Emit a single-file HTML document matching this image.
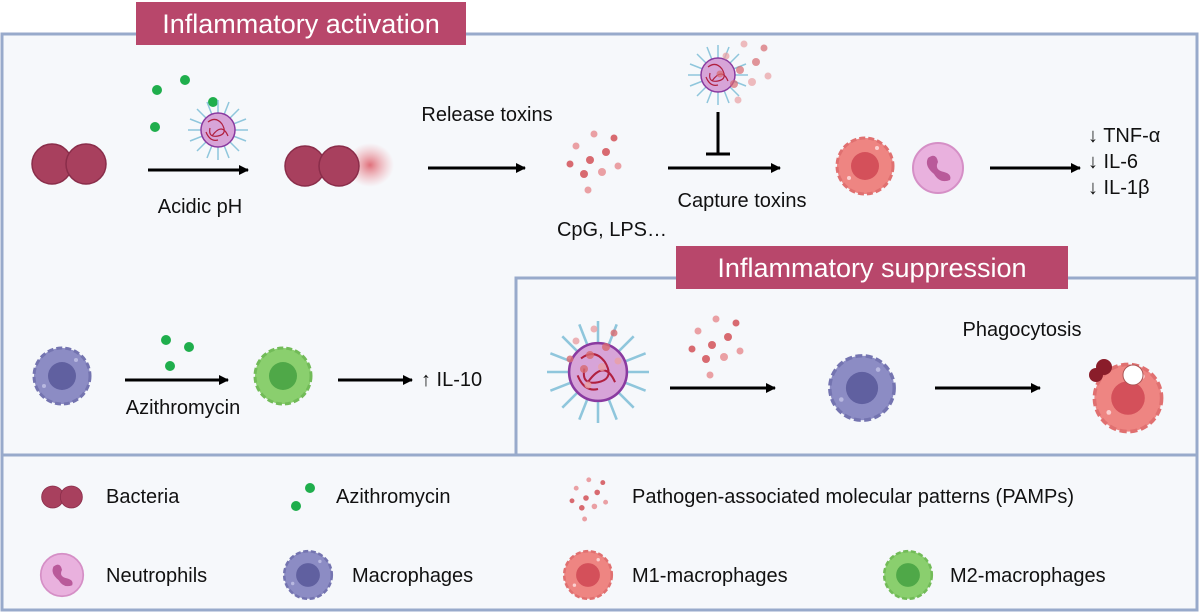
<!DOCTYPE html>
<html><head><meta charset="utf-8"><style>
html,body{margin:0;padding:0;background:#fff}
svg{display:block}
text{font-family:"Liberation Sans",sans-serif;fill:#111}
</style></head><body>
<svg width="1200" height="613" viewBox="0 0 1200 613" xmlns="http://www.w3.org/2000/svg">
<defs>
<marker id="ah" markerWidth="10" markerHeight="10" refX="9" refY="5" orient="auto" markerUnits="userSpaceOnUse"><path d="M0,0 L10,5 L0,10 z" fill="#000"/></marker>
<radialGradient id="blur"><stop offset="0" stop-color="#e0707a"/><stop offset="1" stop-color="#f0a0a8" stop-opacity="0"/></radialGradient>
<g id="bact"><circle cx="-17" cy="0" r="20" fill="#a8405e" stroke="#8a2d4a" stroke-width="1.5"/><circle cx="17" cy="0" r="20" fill="#a8405e" stroke="#8a2d4a" stroke-width="1.5"/></g>
<g id="mac"><circle r="28" fill="#8c8cc4" stroke="#7474b0" stroke-width="3" stroke-dasharray="6 3"/><circle r="14" fill="#6060a0"/><circle cx="14" cy="-16" r="2" fill="#b8b8e0"/><circle cx="-18" cy="10" r="2" fill="#b8b8e0"/></g>
<g id="m1"><circle r="28" fill="#ee8582" stroke="#e07070" stroke-width="3" stroke-dasharray="6 3"/><circle r="14" fill="#d4505a"/><circle cx="12" cy="-18" r="2" fill="#fbd0d0"/><circle cx="-16" cy="12" r="2" fill="#fbd0d0"/></g>
<g id="m2"><circle r="28" fill="#8acf6e" stroke="#72bb58" stroke-width="3" stroke-dasharray="6 3"/><circle r="14" fill="#4fa848"/></g>
<g id="neu"><circle r="25" fill="#e9b1de" stroke="#d58fc6" stroke-width="2"/><path d="M-10,-10 q8,-6 10,4 q-4,8 6,10 q8,2 6,8 q-10,4 -16,-6 q-10,-8 -6,-16z" fill="#b95a9a"/></g>
<g id="np"><g stroke="#8fc6dc" stroke-width="1.5"><line x1="-30" y1="0" x2="30" y2="0"/><line x1="0" y1="-30" x2="0" y2="30"/><line x1="-21" y1="-21" x2="21" y2="21"/><line x1="-21" y1="21" x2="21" y2="-21"/><line x1="-28" y1="-11" x2="28" y2="11"/><line x1="-28" y1="11" x2="28" y2="-11"/><line x1="-11" y1="-28" x2="11" y2="28"/><line x1="11" y1="-28" x2="-11" y2="28"/></g><circle r="17" fill="#d7a4d8" stroke="#8a3aa0" stroke-width="1.5"/><path d="M-10,-8 q8,-6 14,2 q6,10 -4,12 q-10,2 -8,-8 M-6,6 q10,-14 16,0 M-12,2 q4,10 12,8" stroke="#b02040" fill="none" stroke-width="1.2"/></g>
<g id="pamp" fill="#d86a70"><circle cx="0" cy="0" r="4"/><circle cx="16" cy="-8" r="4"/><circle cx="-14" cy="-14" r="3.5" fill="#eaa0a4"/><circle cx="-6" cy="14" r="4"/><circle cx="12" cy="12" r="4" fill="#eaa0a4"/><circle cx="-20" cy="4" r="3.5"/><circle cx="28" cy="6" r="3.5" fill="#eaa0a4"/><circle cx="4" cy="-26" r="3.5" fill="#eaa0a4"/><circle cx="-2" cy="30" r="3.5" fill="#eaa0a4"/><circle cx="24" cy="-22" r="3.5"/></g>
</defs>
<rect x="0" y="0" width="1200" height="613" fill="#fff"/>
<rect x="2" y="34" width="1195" height="576" fill="#f6f8fb" stroke="#98aacb" stroke-width="3"/>
<line x1="2" y1="455" x2="1197" y2="455" stroke="#98aacb" stroke-width="3"/>
<path d="M516,455 V278 H1197" fill="none" stroke="#98aacb" stroke-width="3"/>
<rect x="136" y="2" width="330" height="43" fill="#b8476b"/>
<text x="301" y="33" font-size="27" text-anchor="middle" style="fill:#fff">Inflammatory activation</text>
<rect x="676" y="246" width="392" height="43" fill="#b8476b"/>
<text x="872" y="277" font-size="27" text-anchor="middle" style="fill:#fff">Inflammatory suppression</text>
<g font-size="20">
<use href="#bact" x="69" y="164"/>
<circle cx="157" cy="90" r="5" fill="#1fae4c"/><circle cx="185" cy="80" r="5" fill="#1fae4c"/><circle cx="213" cy="102" r="5" fill="#1fae4c"/><circle cx="155" cy="127" r="5" fill="#1fae4c"/>
<use href="#np" x="218" y="130"/>
<line x1="148" y1="170" x2="248" y2="170" stroke="#000" stroke-width="3" marker-end="url(#ah)"/>
<text x="200" y="213" text-anchor="middle">Acidic pH</text>
<ellipse cx="370" cy="165" rx="24" ry="22" fill="url(#blur)"/>
<use href="#bact" x="322" y="166"/>
<line x1="428" y1="168" x2="525" y2="168" stroke="#000" stroke-width="3" marker-end="url(#ah)"/>
<text x="487" y="121" text-anchor="middle">Release toxins</text>
<use href="#pamp" x="590" y="160"/>
<text x="612" y="236" text-anchor="middle">CpG, LPS…</text>
<use href="#np" x="718" y="75"/>
<use href="#pamp" x="740" y="70" opacity="0.7"/>
<line x1="718" y1="112" x2="718" y2="154" stroke="#000" stroke-width="3"/>
<line x1="706" y1="154" x2="730" y2="154" stroke="#000" stroke-width="3"/>
<line x1="668" y1="168" x2="780" y2="168" stroke="#000" stroke-width="3" marker-end="url(#ah)"/>
<text x="742" y="207" text-anchor="middle">Capture toxins</text>
<use href="#m1" x="865" y="166"/>
<use href="#neu" x="938" y="168"/>
<line x1="990" y1="168" x2="1080" y2="168" stroke="#000" stroke-width="3" marker-end="url(#ah)"/>
<text x="1088" y="142">↓ TNF-α</text>
<text x="1088" y="168">↓ IL-6</text>
<text x="1088" y="194">↓ IL-1β</text>
<use href="#mac" x="62" y="376"/>
<circle cx="166" cy="340" r="5" fill="#1fae4c"/><circle cx="189" cy="347" r="5" fill="#1fae4c"/><circle cx="170" cy="366" r="5" fill="#1fae4c"/>
<line x1="125" y1="380" x2="228" y2="380" stroke="#000" stroke-width="3" marker-end="url(#ah)"/>
<text x="183" y="414" text-anchor="middle">Azithromycin</text>
<use href="#m2" x="283" y="376"/>
<line x1="338" y1="380" x2="412" y2="380" stroke="#000" stroke-width="3" marker-end="url(#ah)"/>
<text x="421" y="386">↑ IL-10</text>
<g transform="translate(598,372) scale(1.7)"><use href="#np"/></g>
<use href="#pamp" x="590" y="355" opacity="0.8"/>
<use href="#pamp" x="712" y="345"/>
<line x1="670" y1="388" x2="775" y2="388" stroke="#000" stroke-width="3" marker-end="url(#ah)"/>
<g transform="translate(862,388) scale(1.15)"><use href="#mac"/></g>
<line x1="935" y1="388" x2="1040" y2="388" stroke="#000" stroke-width="3" marker-end="url(#ah)"/>
<text x="1022" y="336" text-anchor="middle">Phagocytosis</text>
<g transform="translate(1128,398) scale(1.2)"><use href="#m1"/></g>
<circle cx="1104" cy="367" r="8" fill="#8a1d2a"/><circle cx="1096" cy="375" r="7" fill="#8a1d2a"/>
<circle cx="1133" cy="375" r="10" fill="#fff" stroke="#a55" stroke-width="1"/>
<g transform="translate(62,497) scale(0.55)"><use href="#bact"/></g>
<text x="106" y="503">Bacteria</text>
<circle cx="310" cy="488" r="5" fill="#1fae4c"/><circle cx="296" cy="506" r="5" fill="#1fae4c"/>
<text x="336" y="503">Azithromycin</text>
<g transform="translate(586,498) scale(0.7)"><use href="#pamp"/></g>
<text x="632" y="503">Pathogen-associated molecular patterns (PAMPs)</text>
<g transform="translate(62,575) scale(0.85)"><use href="#neu"/></g>
<text x="106" y="582">Neutrophils</text>
<g transform="translate(308,575) scale(0.85)"><use href="#mac"/></g>
<text x="352" y="582">Macrophages</text>
<g transform="translate(588,575) scale(0.85)"><use href="#m1"/></g>
<text x="632" y="582">M1-macrophages</text>
<g transform="translate(908,575) scale(0.85)"><use href="#m2"/></g>
<text x="950" y="582">M2-macrophages</text>
</g>
</svg>
</body></html>
